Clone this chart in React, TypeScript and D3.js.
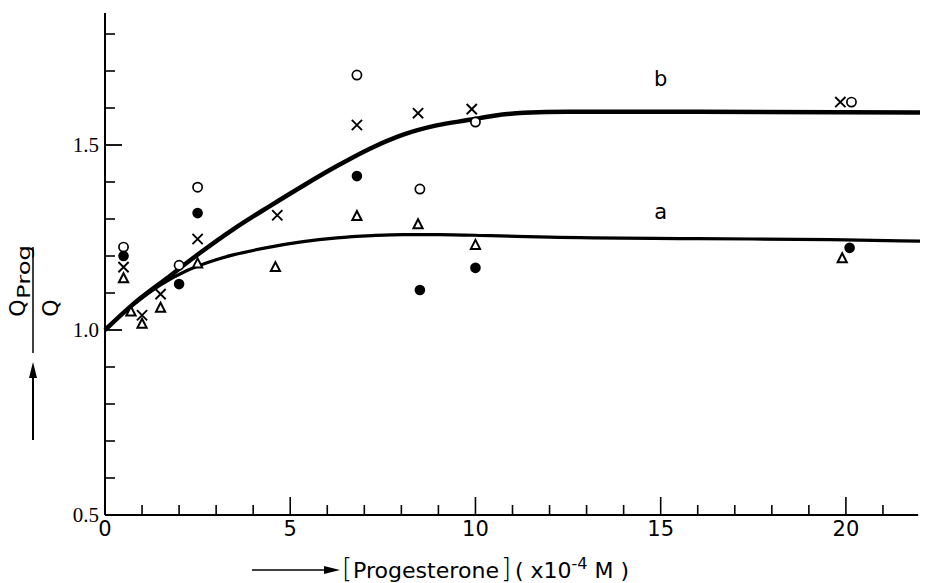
import React, { useEffect, useRef } from "react";
import * as d3 from "d3";

// measured points, x in 1e-4 M, y = Q_prog / Q
const openCircle = [
  [0.5, 1.224], [2, 1.175], [2.5, 1.386], [6.8, 1.689], [8.5, 1.381], [10, 1.562], [20.15, 1.616],
];
const filledCircle = [
  [0.5, 1.2], [2, 1.124], [2.5, 1.316], [6.8, 1.416], [8.5, 1.108], [10, 1.168], [20.1, 1.222],
];
const crosses = [
  [0.5, 1.17], [1, 1.04], [1.5, 1.097], [2.5, 1.246], [4.65, 1.31], [6.8, 1.554], [8.45, 1.586],
  [9.9, 1.597], [19.85, 1.616],
];
const triangles = [
  [0.5, 1.14], [0.7, 1.05], [1, 1.017], [1.5, 1.06], [2.5, 1.18], [4.6, 1.17], [6.8, 1.308],
  [8.45, 1.286], [10, 1.23], [19.9, 1.194],
];

// fitted curves
const curveB = [
  [0, 1.0], [0.76, 1.07], [1.67, 1.14], [2.56, 1.208], [3.46, 1.272], [4.45, 1.335], [5.35, 1.39],
  [6.26, 1.443], [7.15, 1.49], [8.05, 1.528], [8.95, 1.553], [9.85, 1.568], [10.5, 1.579],
  [11.3, 1.587], [12.5, 1.59], [16, 1.59], [22, 1.588],
];
const curveA = [
  [0, 1.0], [0.76, 1.068], [1.5, 1.122], [2.2, 1.16], [3, 1.19], [3.46, 1.203], [4.45, 1.224],
  [5.3, 1.238], [6.26, 1.249], [7.2, 1.255], [8.05, 1.258], [9, 1.258], [10.4, 1.255],
  [12, 1.251], [16, 1.247], [19.6, 1.244], [22, 1.24],
];

const xMajor = [0, 5, 10, 15, 20];
const xMinor = [1, 2, 3, 4, 6, 7, 8, 9, 11, 12, 13, 14, 16, 17, 18, 19, 21];
const yMajor = [0.5, 1.0, 1.5];
const yMinor = [0.6, 0.7, 0.8, 0.9, 1.1, 1.2, 1.3, 1.4, 1.6, 1.7, 1.8];
const yLabels = ["0.5", "1.0", "1.5"];
const curveLabels = [
  { text: "b", x: 15, y: 1.66 },
  { text: "a", x: 15, y: 1.3 },
];

const W = 929;
const H = 583;
const sans = "DejaVu Sans, sans-serif";
const serif = "Liberation Serif, Times New Roman, serif";

const App = () => {
  const svgRef = useRef<SVGSVGElement>(null);

  useEffect(() => {
    const svg = d3.select(svgRef.current);
    svg.selectAll("*").remove();

    const x = d3.scaleLinear().domain([0, 22]).range([105, 920]);
    const y = d3.scaleLinear().domain([0.5, 1.5]).range([515, 145]);
    const y0 = y(0.5);
    const x0 = x(0);

    // axes
    svg.append("line")
      .attr("x1", x0).attr("x2", x0)
      .attr("y1", y0).attr("y2", y(1.857))
      .attr("stroke", "#000").attr("stroke-width", 2);
    svg.append("line")
      .attr("x1", x0).attr("x2", x(21.95))
      .attr("y1", y0).attr("y2", y0)
      .attr("stroke", "#000").attr("stroke-width", 2);

    svg.selectAll(".xmaj").data(xMajor.slice(1)).join("line")
      .attr("class", "xmaj")
      .attr("x1", (d) => x(d)).attr("x2", (d) => x(d))
      .attr("y1", y0).attr("y2", y0 - 18)
      .attr("stroke", "#000").attr("stroke-width", 1.6);
    svg.selectAll(".xmin").data(xMinor).join("line")
      .attr("class", "xmin")
      .attr("x1", (d) => x(d)).attr("x2", (d) => x(d))
      .attr("y1", y0).attr("y2", y0 - 10)
      .attr("stroke", "#000").attr("stroke-width", 1.6);
    svg.selectAll(".ymaj").data(yMajor.slice(1)).join("line")
      .attr("class", "ymaj")
      .attr("x1", x0).attr("x2", x0 + 17)
      .attr("y1", (d) => y(d)).attr("y2", (d) => y(d))
      .attr("stroke", "#000").attr("stroke-width", 1.8);
    svg.selectAll(".ymin").data(yMinor).join("line")
      .attr("class", "ymin")
      .attr("x1", x0).attr("x2", x0 + 10)
      .attr("y1", (d) => y(d)).attr("y2", (d) => y(d))
      .attr("stroke", "#000").attr("stroke-width", 1.6);

    svg.selectAll(".xlab").data(xMajor).join("text")
      .attr("class", "xlab")
      .attr("x", (d) => x(d)).attr("y", y0 + 21)
      .attr("text-anchor", "middle")
      .attr("font-family", sans).attr("font-size", 21)
      .text((d) => String(d));
    svg.selectAll(".ylab").data(yMajor).join("text")
      .attr("class", "ylab")
      .attr("x", x0 - 6).attr("y", (d) => y(d) + 7)
      .attr("text-anchor", "end")
      .attr("font-family", serif).attr("font-size", 21)
      .text((d, i) => yLabels[i]);

    // curves
    const line = d3.line()
      .x((d) => x(d[0]))
      .y((d) => y(d[1]))
      .curve(d3.curveMonotoneX);
    svg.append("path").datum(curveA)
      .attr("fill", "none").attr("stroke", "#000").attr("stroke-width", 3.2)
      .attr("d", line as any);
    svg.append("path").datum(curveB)
      .attr("fill", "none").attr("stroke", "#000").attr("stroke-width", 4.5)
      .attr("d", line as any);

    svg.selectAll(".clab").data(curveLabels).join("text")
      .attr("class", "clab")
      .attr("x", (d) => x(d.x)).attr("y", (d) => y(d.y))
      .attr("text-anchor", "middle")
      .attr("font-family", sans).attr("font-size", 21)
      .text((d) => d.text);

    // markers
    svg.selectAll(".open").data(openCircle).join("circle")
      .attr("class", "open")
      .attr("cx", (d) => x(d[0])).attr("cy", (d) => y(d[1]))
      .attr("r", 4.6)
      .attr("fill", "#fff").attr("stroke", "#000").attr("stroke-width", 1.7);
    svg.selectAll(".filled").data(filledCircle).join("circle")
      .attr("class", "filled")
      .attr("cx", (d) => x(d[0])).attr("cy", (d) => y(d[1]))
      .attr("r", 5.3)
      .attr("fill", "#000");
    const cross = d3.symbol().type(d3.symbolX).size(70);
    svg.selectAll(".cross").data(crosses).join("path")
      .attr("class", "cross")
      .attr("transform", (d) => `translate(${x(d[0])},${y(d[1])})`)
      .attr("d", cross as any)
      .attr("fill", "none").attr("stroke", "#000").attr("stroke-width", 1.9);
    svg.selectAll(".tri").data(triangles).join("path")
      .attr("class", "tri")
      .attr("transform", (d) => `translate(${x(d[0])},${y(d[1])})`)
      .attr("d", "M0,-5L4.6,4L-4.6,4Z")
      .attr("fill", "#fff").attr("stroke", "#000").attr("stroke-width", 2);

    // x title
    const ty = 570;
    svg.append("line")
      .attr("x1", 252).attr("x2", 328).attr("y1", ty).attr("y2", ty)
      .attr("stroke", "#000").attr("stroke-width", 1.5);
    svg.append("path")
      .attr("d", `M340,${ty}L324,${ty - 4}L324,${ty + 4}Z`)
      .attr("fill", "#000");
    const xt = svg.append("g").attr("font-family", sans);
    xt.append("text").attr("x", 342).attr("y", 577)
      .attr("font-size", 26).attr("font-weight", 200).text("[");
    xt.append("text").attr("x", 353).attr("y", 578)
      .attr("font-size", 22).attr("textLength", 146)
      .attr("lengthAdjust", "spacingAndGlyphs").text("Progesterone");
    xt.append("text").attr("x", 501).attr("y", 577)
      .attr("font-size", 26).attr("font-weight", 200).text("]");
    const t2 = xt.append("text").attr("x", 515).attr("y", 578).attr("font-size", 22);
    t2.append("tspan").text("( x10");
    t2.append("tspan").attr("dy", -9).attr("font-size", 16).text("-4");
    t2.append("tspan").attr("dy", 9).text(" M )");

    // y title (rotated fraction)
    const yt = svg.append("g").attr("font-family", sans);
    yt.append("text")
      .attr("transform", "translate(25,308) rotate(-90)")
      .attr("text-anchor", "middle").attr("font-size", 22).text("Q");
    yt.append("text")
      .attr("transform", "translate(30,299) rotate(-90)")
      .attr("font-size", 17).attr("textLength", 54)
      .attr("lengthAdjust", "spacingAndGlyphs").text("Prog");
    yt.append("text")
      .attr("transform", "translate(58,308) rotate(-90)")
      .attr("text-anchor", "middle").attr("font-size", 22).text("Q");
    yt.append("line")
      .attr("x1", 33).attr("x2", 33).attr("y1", 247).attr("y2", 353)
      .attr("stroke", "#000").attr("stroke-width", 1.5);
    yt.append("line")
      .attr("x1", 33).attr("x2", 33).attr("y1", 440).attr("y2", 374)
      .attr("stroke", "#000").attr("stroke-width", 2);
    yt.append("path")
      .attr("d", "M33,362L29,378L37,378Z")
      .attr("fill", "#000");
  }, []);

  return (
    <svg
      ref={svgRef}
      width={W}
      height={H}
      style={{ position: "absolute", left: 0, top: 0, background: "#fff" }}
    />
  );
};

export default App;
